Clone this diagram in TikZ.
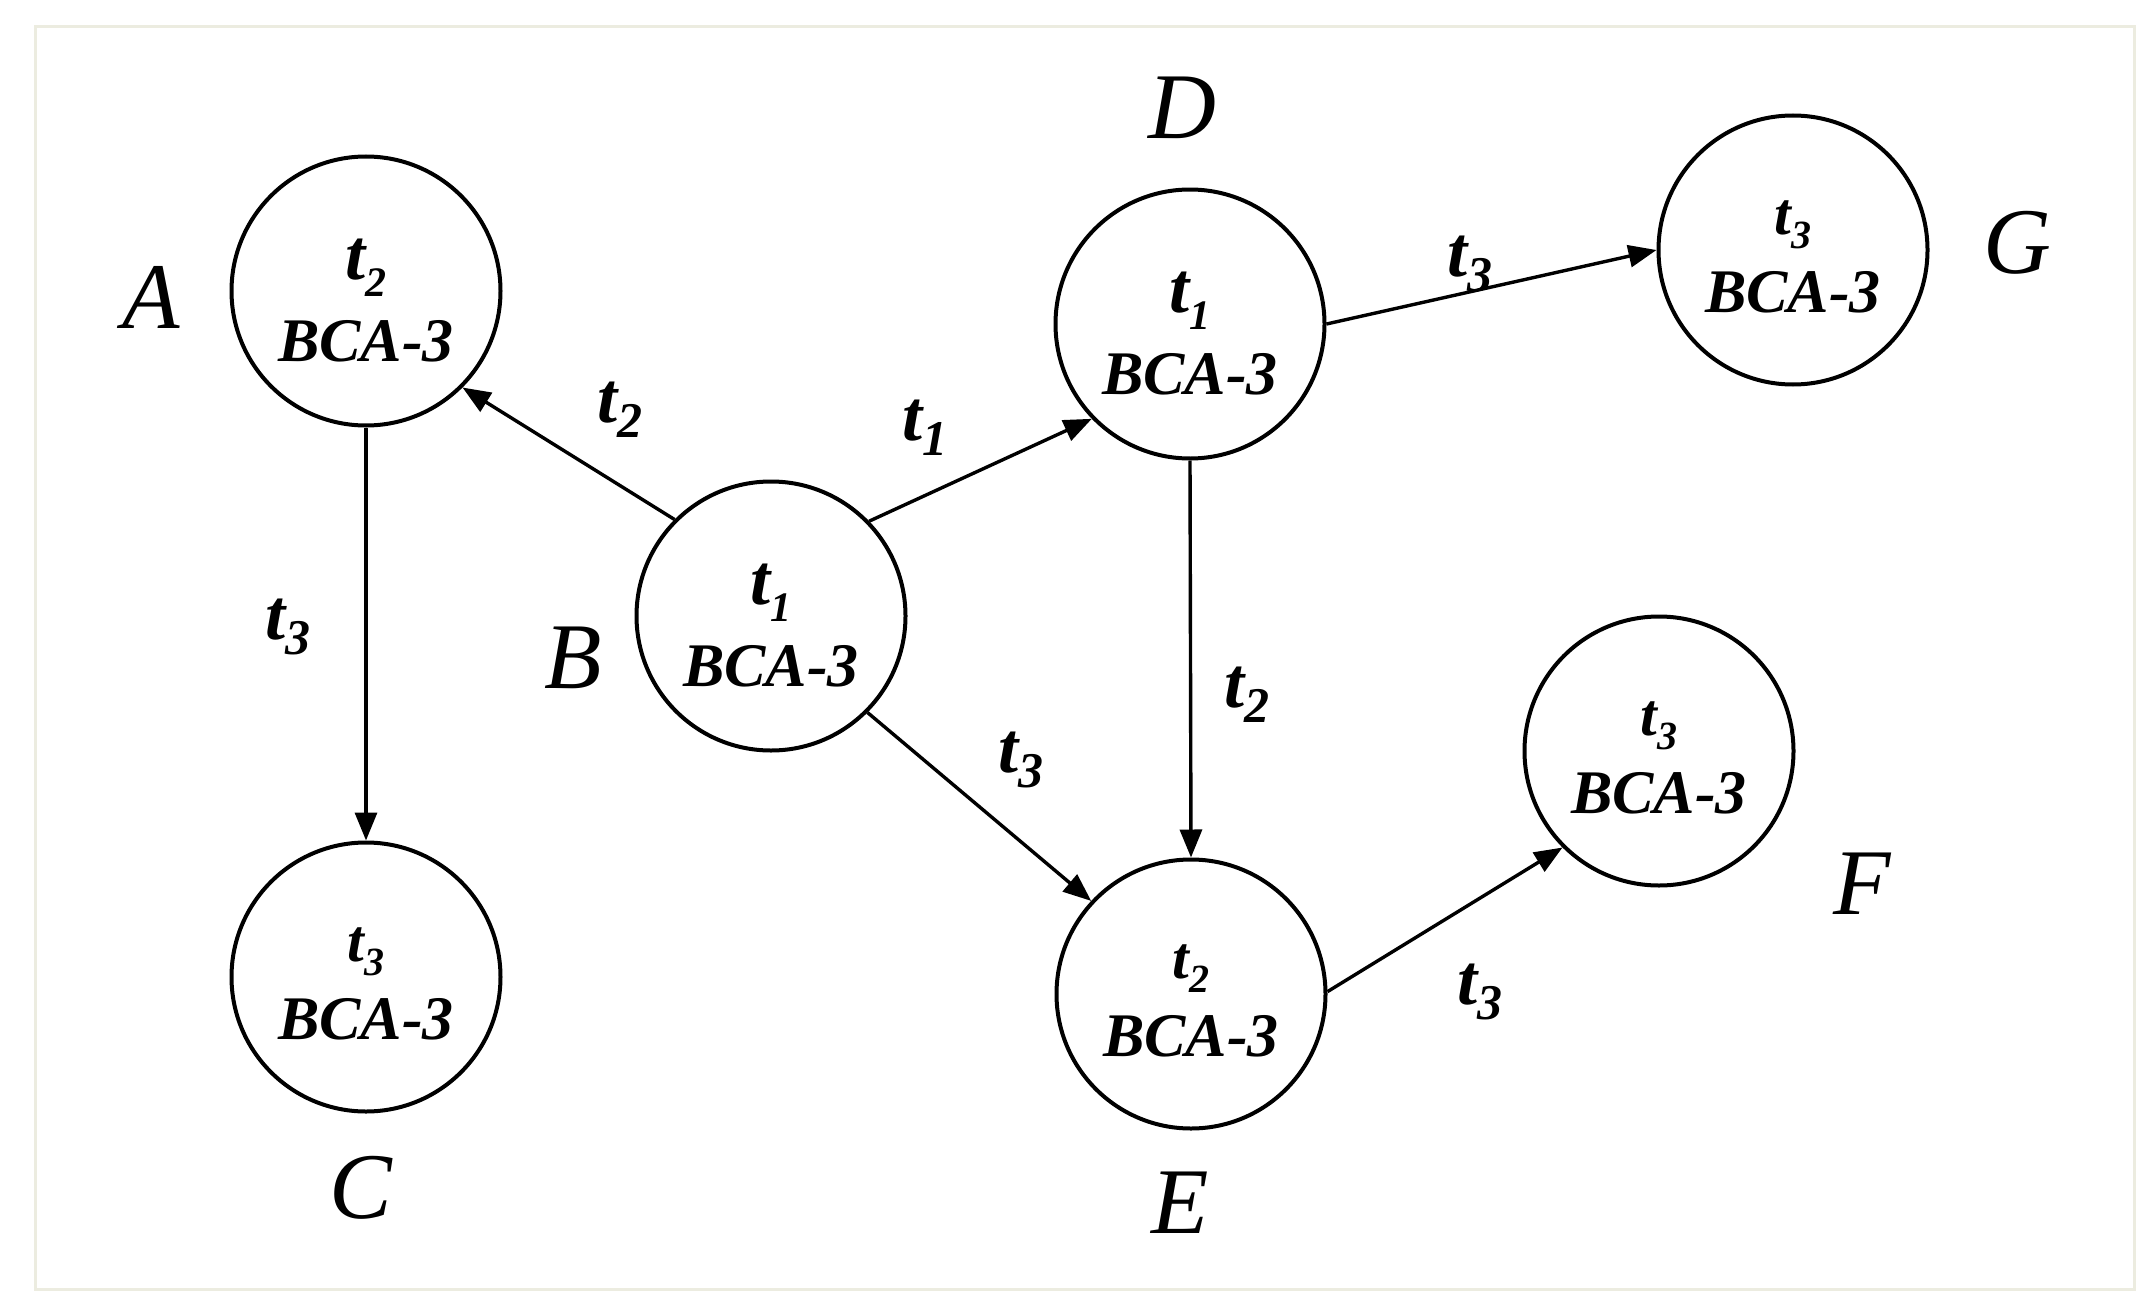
\documentclass[tikz,border=0pt]{standalone}
\usepackage{fontspec}
\setmainfont{Liberation Serif}
\usetikzlibrary{arrows.meta}
\newcommand{\tsym}[4]{{\fontsize{#1}{#1}\selectfont t}\raisebox{-#3}{\fontsize{#2}{#2}\selectfont #4}}
\newcommand{\bigtext}[1]{\makebox[0pt]{\raisebox{12pt}[0pt][0pt]{\tsym{72pt}{42pt}{17pt}{#1}}}\makebox[0pt]{\raisebox{-70pt}[0pt][0pt]{BCA-3}}}
\newcommand{\smalltext}[1]{\makebox[0pt]{\raisebox{16pt}[0pt][0pt]{\tsym{60pt}{40pt}{14pt}{#1}}}\makebox[0pt]{\raisebox{-62pt}[0pt][0pt]{BCA-3}}}
\definecolor{framecol}{RGB}{236,236,224}
\begin{document}
\begin{tikzpicture}[x=1pt,y=-1pt,
  state/.style={circle,draw,line width=4pt,minimum size=269pt,inner sep=0pt,
    font=\bfseries\itshape\fontsize{62pt}{62pt}\selectfont},
  lab/.style={inner sep=0pt,font=\itshape\fontsize{94pt}{94pt}\selectfont},
  elab/.style={inner sep=0pt,font=\bfseries\itshape},
  arr/.style={line width=3.4pt,-{Triangle[length=28pt,width=22pt]}}]
\useasboundingbox (0,0) rectangle (2150,1311);
\fill[white] (0,0) rectangle (2150,1311);
\draw[framecol,line width=3pt] (35,27) rectangle (2134,1289);
% states
\node[state] (A) at (366,291) {\bigtext{2}};
\node[state] (B) at (771,616) {\bigtext{1}};
\node[state] (C) at (366,977) {\smalltext{3}};
\node[state] (D) at (1190,324) {\bigtext{1}};
\node[state] (E) at (1191,994) {\smalltext{2}};
\node[state] (F) at (1659,751) {\smalltext{3}};
\node[state] (G) at (1793,250) {\smalltext{3}};
% node names
\node[lab] (lA) at (151,297) {A};
\node[lab] (lB) at (573,658) {B};
\node[lab] (lC) at (361,1188) {C};
\node[lab] (lD) at (1182,108) {D};
\node[lab] (lE) at (1180,1203) {E};
\node[lab] (lF) at (1862,884) {F};
\node[lab] (lG) at (2017,243) {G};
% connectors
\draw[arr] (B.135) -- (A.-45);
\draw[arr] (A.south) -- (C.north);
\draw[arr] (B.44) -- (D.224);
\draw[arr] (B.-45) -- (E.137);
\draw[arr] (D.south) -- (E.north);
\draw[arr] (D.east) -- (G.west);
\draw[arr] (E.1) -- (F.225);
% connector labels
\node[elab] (eBA) at (620,410) {\tsym{72pt}{50pt}{15pt}{2}};
\node[elab] (eBD) at (925,428) {\tsym{72pt}{50pt}{15pt}{1}};
\node[elab] (eAC) at (288,627) {\tsym{72pt}{50pt}{15pt}{3}};
\node[elab] (eBE) at (1021,760) {\tsym{72pt}{50pt}{15pt}{3}};
\node[elab] (eDE) at (1247,695) {\tsym{72pt}{50pt}{15pt}{2}};
\node[elab] (eEF) at (1480,992) {\tsym{72pt}{50pt}{15pt}{3}};
\node[elab] (eDG) at (1470,264) {\tsym{72pt}{50pt}{15pt}{3}};
\end{tikzpicture}
\end{document}
